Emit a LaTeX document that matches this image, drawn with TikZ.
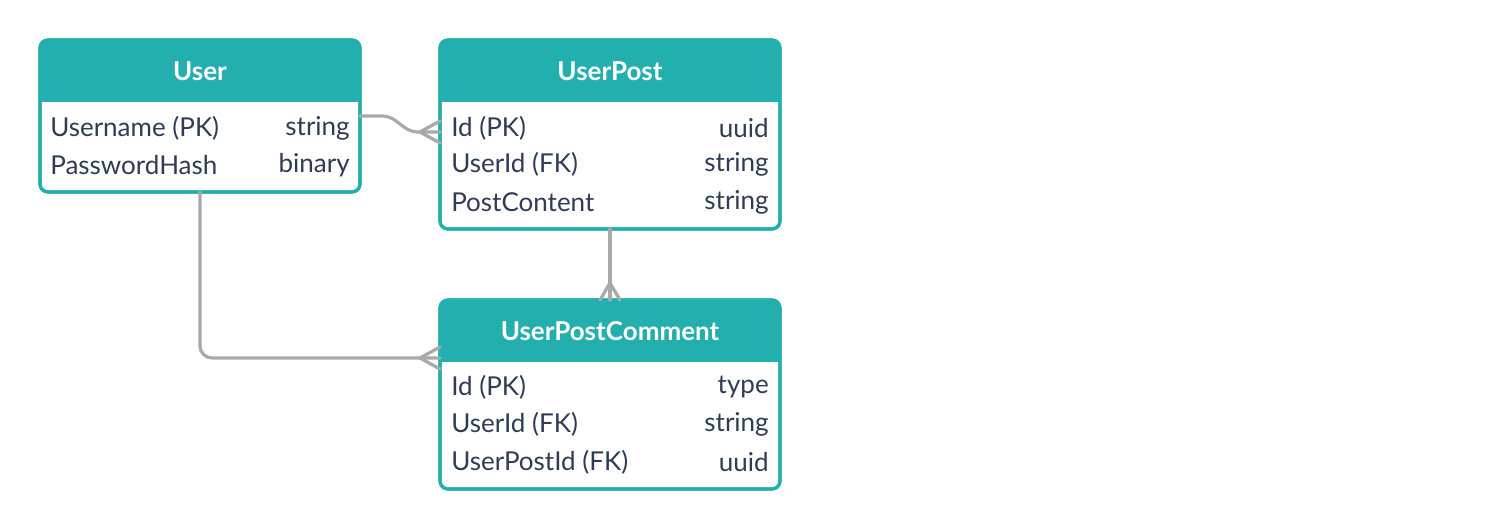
\documentclass[tikz,border=0pt]{standalone}
\usepackage{fontspec}
\setmainfont{Lato}
\usetikzlibrary{calc}
\definecolor{teal1}{HTML}{22AFAE}
\definecolor{txt}{HTML}{2E3D55}
\definecolor{conn}{HTML}{A9A9A9}
\tikzset{
  tbl/.style={draw=teal1, line width=2.4pt, rounded corners=6pt, fill=white, inner sep=0pt, outer sep=0pt, anchor=north west},
  hdr/.style={font=\fontsize{19.5}{22}\selectfont\bfseries, text=white, inner sep=0pt},
  lt/.style={font=\fontsize{19.5}{22}\selectfont, text=txt, anchor=west, inner sep=0pt},
  rt/.style={font=\fontsize{19.5}{22}\selectfont, text=txt, anchor=east, inner sep=0pt},
  cl/.style={draw=conn, line width=2.4pt, line cap=round, line join=round},
}
\newcommand{\tablebox}[6]{% name, x, y, w, h, title
  \node[tbl, minimum width=#4*0.75pt, minimum height=#5*0.75pt] (#1) at (#2,#3) {};
  \begin{scope}
    \clip[rounded corners=6pt] (#1.north west) rectangle (#1.south east);
    \fill[teal1] (#1.north west) rectangle ([yshift=-46.5pt]#1.north east);
  \end{scope}
  \draw[draw=teal1, line width=2.4pt, rounded corners=6pt] (#1.north west) rectangle (#1.south east);
  \node[hdr] (#1-title) at ($(#1.north)+(0,31)$) {#6};
}
\begin{document}
\begin{tikzpicture}[x=0.75pt,y=-0.75pt]
\useasboundingbox (0,0) rectangle (1500,529);
% tables
\tablebox{user}{40}{40}{320}{152}{User}
\tablebox{post}{440}{40}{340}{189}{UserPost}
\tablebox{comment}{440}{300}{340}{189}{UserPostComment}
% rows User
\node[lt] (u1l) at (50,128) {Username (PK)};
\node[rt] (u1r) at (350,128) {string};
\node[lt] (u2l) at (50,165) {PasswordHash};
\node[rt] (u2r) at (350,165) {binary};
% rows UserPost
\node[lt] (p1l) at (451,128) {Id (PK)};
\node[rt] (p1r) at (769,128) {uuid};
\node[lt] (p2l) at (451,164) {UserId (FK)};
\node[rt] (p2r) at (769,164) {string};
\node[lt] (p3l) at (451,202) {PostContent};
\node[rt] (p3r) at (769,202) {string};
% rows UserPostComment
\node[lt] (c1l) at (451,387) {Id (PK)};
\node[rt] (c1r) at (769,387) {type};
\node[lt] (c2l) at (451,424) {UserId (FK)};
\node[rt] (c2r) at (769,424) {string};
\node[lt] (c3l) at (451,462) {UserPostId (FK)};
\node[rt] (c3r) at (769,462) {uuid};
% connector anchors
\coordinate (a1) at (user.east |- 0,116);
\coordinate (b1) at (post.west |- 0,132);
\coordinate (a2) at (post.south);
\coordinate (b2) at (comment.north);
\coordinate (a3) at (200,192);
\coordinate (b3) at (comment.west |- 0,358);
% connector 1: User -> UserPost
\draw[cl] (a1) -- ++(22,0) .. controls ++(16,0) and ++(-16,0) .. ($(b1)+(-22,0)$) -- (b1);
\draw[cl] ($(b1)+(-20,0)$) -- ($(b1)+(0,-11)$);
\draw[cl] ($(b1)+(-20,0)$) -- ($(b1)+(0,11)$);
% connector 2: UserPost -> UserPostComment
\draw[cl] (a2) -- (b2);
\draw[cl] ($(b2)+(0,-17)$) -- ($(b2)+(-10,0)$);
\draw[cl] ($(b2)+(0,-17)$) -- ($(b2)+(10,0)$);
% connector 3: User -> UserPostComment
\draw[cl, rounded corners=9pt] (a3) |- (b3);
\draw[cl] ($(b3)+(-20,0)$) -- ($(b3)+(0,-11)$);
\draw[cl] ($(b3)+(-20,0)$) -- ($(b3)+(0,11)$);
\end{tikzpicture}
\end{document}
